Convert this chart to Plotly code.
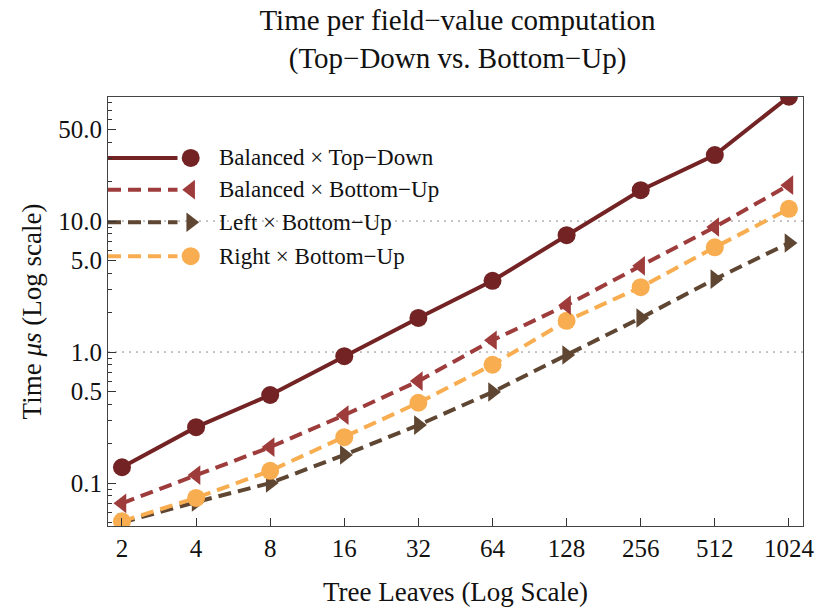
import plotly.graph_objects as go

# Tree sizes (number of leaves) and timing per field-value computation, in microseconds
leaves = [2, 4, 8, 16, 32, 64, 128, 256, 512, 1024]
leaf_labels = [str(v) for v in leaves]

balanced_top_down = [0.132, 0.267, 0.47, 0.93, 1.82, 3.5, 7.8, 17.2, 31.9, 89.0]
balanced_bottom_up = [0.070, 0.115, 0.188, 0.33, 0.60, 1.23, 2.28, 4.55, 9.0, 18.8]
left_bottom_up = [0.050, 0.0716, 0.100, 0.164, 0.277, 0.495, 0.95, 1.82, 3.6, 6.8]
right_bottom_up = [0.051, 0.077, 0.124, 0.224, 0.41, 0.80, 1.73, 3.13, 6.3, 12.4]

series_names = [
    "Balanced \u00d7 Top\u2212Down",
    "Balanced \u00d7 Bottom\u2212Up",
    "Left \u00d7 Bottom\u2212Up",
    "Right \u00d7 Bottom\u2212Up",
]
series_values = [balanced_top_down, balanced_bottom_up, left_bottom_up, right_bottom_up]
series_colors = ["#732323", "#9e3c3c", "#5f4632", "#f8ae50"]
series_symbols = ["circle", "triangle-left", "triangle-right", "circle"]
series_dash = ["solid", "13px,7px", "13px,7px", "13px,7px"]
series_marker_size = [18, 17, 17, 18]

y_tick_vals = [0.1, 0.5, 1, 5, 10, 50]
y_tick_text = ["0.1", "0.5", "1.0", "5.0", "10.0", "50.0"]
y_minor_vals = [m * 10 ** e for e in range(-2, 2) for m in range(2, 10)]
grid_values = [1, 10]

FONT = "Liberation Serif, Times New Roman, serif"

fig = go.Figure()

# draw order: the top-down curve sits above the bottom-up curves
for i in [2, 3, 1, 0]:
    fig.add_trace(go.Scatter(
        x=leaves, y=series_values[i], mode="lines+markers",
        name=series_names[i], showlegend=False,
        line=dict(color=series_colors[i], width=4, dash=series_dash[i]),
        marker=dict(symbol=series_symbols[i], size=series_marker_size[i],
                    color=series_colors[i], line=dict(width=0)),
    ))

# hand-built legend on a hidden unit axis: line stub, marker, label
legend_rows = [0.858, 0.784, 0.708, 0.629]
for i, ypos in enumerate(legend_rows):
    fig.add_trace(go.Scatter(
        x=[0.0, 0.10], y=[ypos, ypos], mode="lines", xaxis="x2", yaxis="y2",
        showlegend=False, hoverinfo="skip",
        line=dict(color=series_colors[i], width=4, dash=series_dash[i]),
    ))
    fig.add_trace(go.Scatter(
        x=[0.119], y=[ypos], mode="markers", xaxis="x2", yaxis="y2",
        showlegend=False, hoverinfo="skip",
        marker=dict(symbol=series_symbols[i], size=series_marker_size[i],
                    color=series_colors[i], line=dict(width=0)),
    ))
    fig.add_annotation(
        x=0.157, y=ypos, xref="x2", yref="y2", text=series_names[i],
        showarrow=False, xanchor="left", yanchor="middle",
        font=dict(family=FONT, size=23, color="#111"),
    )

# dotted reference lines at 1 and 10 microseconds
for g in grid_values:
    fig.add_shape(type="line", xref="paper", yref="y", x0=0, x1=1, y0=g, y1=g,
                  line=dict(color="#8a8a8a", width=1, dash="2px,5px"), layer="below")

fig.update_layout(
    width=817, height=607,
    margin=dict(l=108, r=14, t=97, b=81),
    paper_bgcolor="white", plot_bgcolor="white",
    font=dict(family=FONT, size=25, color="#111"),
    title=dict(
        text="Time per field\u2212value computation<br>(Top\u2212Down vs. Bottom\u2212Up)",
        x=0.56, xanchor="center", yref="container", y=1 - 30 / 607, yanchor="middle",
        font=dict(family=FONT, size=29, color="#111"),
    ),
    xaxis=dict(
        type="log", range=[0.2442, 3.0675], automargin=False,
        tickmode="array", tickvals=leaves, ticktext=leaf_labels,
        ticks="inside", ticklen=8, tickcolor="#333", tickwidth=1,
        showline=True, linecolor="#444", linewidth=1, mirror=True,
        showgrid=False, zeroline=False,
        title=dict(text="Tree Leaves (Log Scale)", standoff=26,
                   font=dict(family=FONT, size=27)),
        tickfont=dict(family=FONT, size=25),
    ),
    yaxis=dict(
        type="log", range=[-1.328, 1.947], automargin=False,
        tickmode="array", tickvals=y_tick_vals, ticktext=y_tick_text,
        ticks="inside", ticklen=8, tickcolor="#333", tickwidth=1,
        minor=dict(tickmode="array", tickvals=y_minor_vals, ticks="inside",
                   ticklen=4, tickcolor="#333", showgrid=False),
        showline=True, linecolor="#444", linewidth=1, mirror=True,
        showgrid=False, zeroline=False,
        title=dict(text="Time <i>\u03bcs</i> (Log scale)", standoff=8,
                   font=dict(family=FONT, size=27)),
        tickfont=dict(family=FONT, size=25),
    ),
    xaxis2=dict(overlaying="x", range=[0, 1], visible=False, fixedrange=True),
    yaxis2=dict(overlaying="y", range=[0, 1], visible=False, fixedrange=True),
)

fig.write_html("out.html")
